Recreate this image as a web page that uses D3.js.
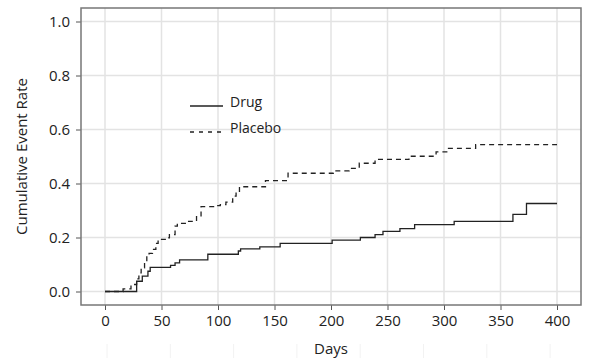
<!DOCTYPE html>
<html lang="en">
<head>
<meta charset="utf-8">
<title>Cumulative Event Rate</title>
<script src="https://cdn.jsdelivr.net/npm/d3@7"></script>
<style>
  body { margin: 0; background: #fff; }
  text { font-family: "Open Sans", "Noto Sans", sans-serif; fill: #222; }
</style>
</head>
<body>
<script>
// step curves (day, cumulative rate)
var drugDays = [0, 28, 33, 38, 40, 58, 62, 66, 91, 118, 120, 137, 155, 201, 226, 239, 246, 261, 274, 309, 361, 373, 400];
var drugRates = [0, 0.038, 0.057, 0.075, 0.089, 0.097, 0.106, 0.117, 0.138, 0.150, 0.158, 0.165, 0.178, 0.190, 0.200, 0.211, 0.223, 0.233, 0.248, 0.260, 0.286, 0.326, 0.326];

var placeboDays = [0, 16, 23, 28, 30, 32, 35, 37, 39, 42, 45, 47, 54, 57, 62, 64, 74, 81, 85, 98, 102, 107, 113, 116, 119, 142, 162, 202, 216, 225, 239, 269, 293, 304, 328, 400];
var placeboRates = [0, 0.010, 0.026, 0.047, 0.069, 0.088, 0.109, 0.131, 0.141, 0.156, 0.178, 0.193, 0.199, 0.211, 0.242, 0.252, 0.260, 0.277, 0.314, 0.318, 0.322, 0.331, 0.353, 0.368, 0.388, 0.411, 0.438, 0.447, 0.456, 0.475, 0.489, 0.501, 0.517, 0.530, 0.544, 0.544];

var xTicks = [0, 50, 100, 150, 200, 250, 300, 350, 400];
var yTicks = [0, 0.2, 0.4, 0.6, 0.8, 1.0];
var seriesNames = ["Drug", "Placebo"];

var w = 608, h = 358;
// plot frame edges (note: "top" is reserved on window, so use a prefix)
var pLeft = 81, pRight = 581, pTop = 8, pBottom = 305;

var svg = d3.select("body").append("svg")
  .attr("width", w)
  .attr("height", h);

var x = d3.scaleLinear().domain([0, 400]).range([105, 557]);
var y = d3.scaleLinear().domain([-0.05, 1.05]).range([pBottom, pTop]);

// faint marks under the axis title
svg.selectAll("line.faint")
  .data(d3.range(8))
  .enter().append("line")
  .attr("class", "faint")
  .attr("x1", function(d) { return 107 + d * 63.3; })
  .attr("x2", function(d) { return 107 + d * 63.3; })
  .attr("y1", 344).attr("y2", h)
  .attr("stroke", "#f2f2f2").attr("stroke-width", 1);

// grid
svg.append("g").selectAll("line")
  .data(xTicks).enter().append("line")
  .attr("x1", function(d) { return x(d); })
  .attr("x2", function(d) { return x(d); })
  .attr("y1", pTop).attr("y2", pBottom)
  .attr("stroke", "#e3e3e3").attr("stroke-width", 1.5);

svg.append("g").selectAll("line")
  .data(yTicks).enter().append("line")
  .attr("x1", pLeft).attr("x2", pRight)
  .attr("y1", function(d) { return y(d); })
  .attr("y2", function(d) { return y(d); })
  .attr("stroke", "#e3e3e3").attr("stroke-width", 1.5);

// axes
var xAxis = svg.append("g")
  .attr("transform", "translate(0," + pBottom + ")")
  .call(d3.axisBottom(x).tickValues(xTicks).tickSize(5).tickPadding(5));
var yAxis = svg.append("g")
  .attr("transform", "translate(" + pLeft + ",0)")
  .call(d3.axisLeft(y).tickValues(yTicks).tickSize(5).tickPadding(6).tickFormat(d3.format(".1f")));

[xAxis, yAxis].forEach(function(a) {
  a.select(".domain").remove();
  a.selectAll(".tick line").attr("stroke", "#555");
  a.selectAll("text").attr("font-size", "15px").attr("fill", "#222")
    .attr("font-family", "'Open Sans', 'Noto Sans', sans-serif");
});

// frame
svg.append("rect")
  .attr("x", pLeft).attr("y", pTop)
  .attr("width", pRight - pLeft).attr("height", pBottom - pTop)
  .attr("fill", "none").attr("stroke", "#777").attr("stroke-width", 1.5);

// curves
var line = d3.line()
  .x(function(d) { return x(d[0]); })
  .y(function(d) { return y(d[1]); })
  .curve(d3.curveStepAfter);

svg.append("path")
  .datum(d3.zip(placeboDays, placeboRates))
  .attr("d", line)
  .attr("fill", "none").attr("stroke", "#222").attr("stroke-width", 1.3)
  .attr("stroke-dasharray", "5,4");

svg.append("path")
  .datum(d3.zip(drugDays, drugRates))
  .attr("d", line)
  .attr("fill", "none").attr("stroke", "#222").attr("stroke-width", 1.3);

// legend
var legend = svg.append("g").selectAll("g")
  .data(seriesNames).enter().append("g")
  .attr("transform", function(d, i) { return "translate(190," + (106 + i * 26) + ")"; });

legend.append("line")
  .attr("x1", 0).attr("x2", function(d, i) { return i ? 31 : 33; })
  .attr("y1", 0).attr("y2", 0)
  .attr("stroke", "#222").attr("stroke-width", 1.3)
  .attr("stroke-dasharray", function(d, i) { return i ? "4,5" : null; });

legend.append("text")
  .attr("x", 40).attr("y", 0).attr("dy", "0.05em")
  .attr("font-size", "14px")
  .text(function(d) { return d; });

// titles
svg.append("text")
  .attr("x", (pLeft + pRight) / 2).attr("y", 354)
  .attr("text-anchor", "middle").attr("font-size", "15px")
  .text("Days");

svg.append("text")
  .attr("transform", "translate(22," + ((pTop + pBottom) / 2) + ") rotate(-90)")
  .attr("text-anchor", "middle").attr("dy", "0.35em").attr("font-size", "15px")
  .text("Cumulative Event Rate");
</script>
</body>
</html>
